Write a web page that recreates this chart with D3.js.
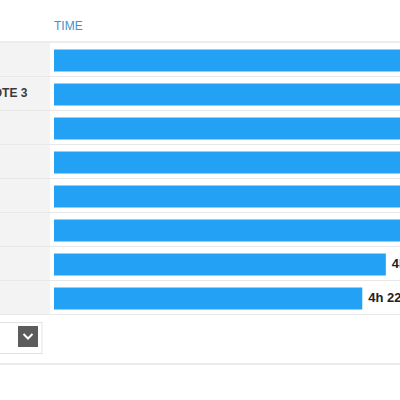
<!DOCTYPE html>
<html><head><meta charset="utf-8">
<script src="https://cdn.jsdelivr.net/npm/d3@7/dist/d3.min.js"></script>
<style>
html,body{margin:0;padding:0;background:#fff;overflow:hidden;}
svg{display:block;font-family:"Liberation Sans",Arial,sans-serif;}
</style></head>
<body>
<svg id="c" width="400" height="400"></svg>
<script>
// Data
const devices = ["LG G2", "GALAXY NOTE 3", "XPERIA Z1", "HTC ONE", "NEXUS 5", "GALAXY S4", "MOTO X", "IPHONE 5S"];
const minutes = [520, 470, 430, 395, 370, 345, 282, 262];
const timeLabels = ["8h 40m", "7h 50m", "7h 10m", "6h 35m", "6h 10m", "5h 45m", "4h 42m", "4h 22m"];
const headerLabel = "TIME";

const svg = d3.select("#c");
const y = d3.scaleBand().domain(devices).range([42, 42 + 34 * devices.length]).padding(0);
const x = d3.scaleLinear().domain([0, 300]).range([54, 407]);

// header
svg.append("text").attr("x", 54).attr("y", 30).attr("font-size", 12)
  .attr("fill", "#3f93c9").text(headerLabel);

// left label column background
svg.append("rect").attr("x", 0).attr("y", 42).attr("width", 50)
  .attr("height", y.bandwidth() * devices.length).attr("fill", "#f3f3f3");

// separators
svg.append("rect").attr("x", 0).attr("y", 41).attr("width", 400).attr("height", 2).attr("fill", "#ececec");
svg.selectAll("line.sep").data(devices).enter().append("line")
  .attr("x1", 0).attr("x2", 400)
  .attr("y1", d => y(d) + y.bandwidth() + 0.5).attr("y2", d => y(d) + y.bandwidth() + 0.5)
  .attr("stroke", "#e8e8e8").attr("stroke-width", 1);

// bars
svg.selectAll("rect.bar").data(devices).enter().append("rect")
  .attr("x", x(0)).attr("y", d => y(d) + 7.5)
  .attr("width", (d, i) => x(minutes[i]) - x(0)).attr("height", 22)
  .attr("fill", "#22a1f5");

// value labels
svg.selectAll("text.val").data(devices).enter().append("text")
  .attr("x", (d, i) => x(minutes[i]) + 6).attr("y", d => y(d) + y.bandwidth() / 2 + 4.5)
  .attr("font-size", 13).attr("font-weight", "bold").attr("fill", "#222")
  .text((d, i) => timeLabels[i]);

// device labels (column cropped at left)
svg.selectAll("text.lab").data(devices).enter().append("text")
  .attr("x", -69).attr("y", d => y(d) + y.bandwidth() / 2 + 4)
  .attr("font-size", 12).attr("font-weight", "bold").attr("fill", "#3a3a3a")
  .text(d => d);

// dropdown
svg.append("rect").attr("x", -20).attr("y", 322.5).attr("width", 62).attr("height", 31)
  .attr("fill", "#fff").attr("stroke", "#e2e2e2");
svg.append("rect").attr("x", 18).attr("y", 326).attr("width", 20).attr("height", 21).attr("fill", "#5c5c5c");
svg.append("path").attr("d", "M23.5,334 L28,338.5 L32.5,334").attr("fill", "none")
  .attr("stroke", "#fff").attr("stroke-width", 2);

// bottom rule
svg.append("rect").attr("x", 0).attr("y", 363).attr("width", 400).attr("height", 2).attr("fill", "#ebebeb");
</script>
</body></html>
